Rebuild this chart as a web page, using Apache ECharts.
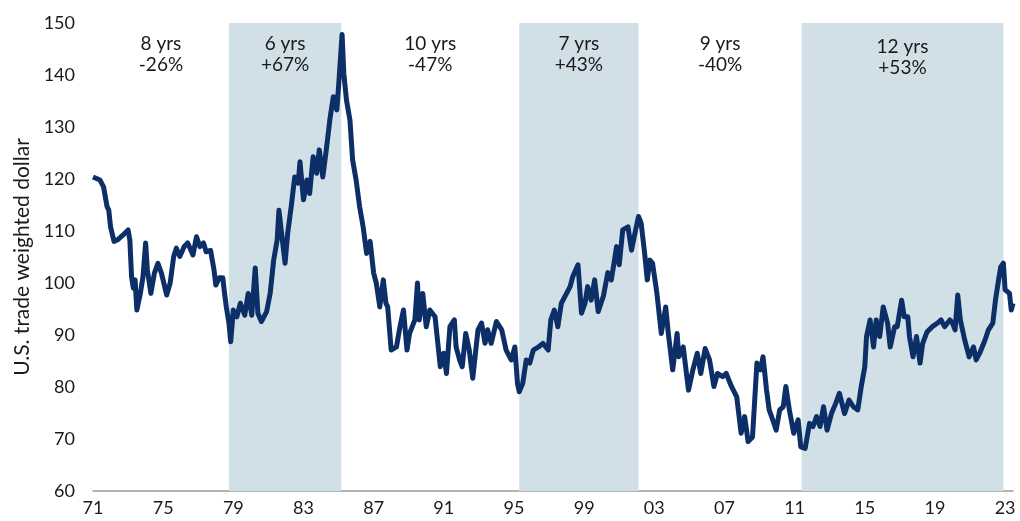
<!DOCTYPE html>
<html>
<head>
<meta charset="utf-8">
<script src="https://cdn.jsdelivr.net/npm/echarts@6/dist/echarts.min.js"></script>
<style>
  html, body { margin: 0; padding: 0; background: #fff; }
  #chart { width: 1020px; height: 521px; }
</style>
</head>
<body>
<div id="chart"></div>
<script>
// decimal years and index values
const years = [
  1971.0, 1971.1, 1971.4, 1971.6, 1971.8, 1971.9, 1972.0, 1972.2, 1972.4, 1972.7,
  1973.0, 1973.1, 1973.2, 1973.3, 1973.4, 1973.5, 1973.7, 1973.85, 1974.0, 1974.1,
  1974.3, 1974.5, 1974.7, 1974.9, 1975.2, 1975.4, 1975.6, 1975.75, 1975.95, 1976.2,
  1976.4, 1976.7, 1976.9, 1977.1, 1977.3, 1977.45, 1977.7, 1977.9, 1978.0, 1978.2,
  1978.4, 1978.5, 1978.6, 1978.75, 1978.85, 1979.0, 1979.2, 1979.4, 1979.65, 1979.85,
  1980.05, 1980.25, 1980.4, 1980.6, 1980.9, 1981.1, 1981.3, 1981.5, 1981.6, 1981.75,
  1981.95, 1982.1, 1982.3, 1982.5, 1982.7, 1982.8, 1983.0, 1983.2, 1983.35, 1983.55,
  1983.75, 1983.9, 1984.1, 1984.3, 1984.5, 1984.7, 1984.9, 1985.0, 1985.2, 1985.3,
  1985.45, 1985.65, 1985.8, 1986.0, 1986.2, 1986.4, 1986.6, 1986.8, 1987.0, 1987.15,
  1987.35, 1987.55, 1987.7, 1987.8, 1988.0, 1988.3, 1988.5, 1988.7, 1988.9, 1989.05,
  1989.35, 1989.5, 1989.6, 1989.8, 1990.0, 1990.2, 1990.5, 1990.8, 1991.0, 1991.15,
  1991.35, 1991.6, 1991.7, 1991.9, 1992.05, 1992.25, 1992.45, 1992.65, 1992.95, 1993.15,
  1993.35, 1993.5, 1993.7, 1994.0, 1994.3, 1994.55, 1994.85, 1995.05, 1995.2, 1995.3,
  1995.5, 1995.7, 1995.9, 1996.1, 1996.4, 1996.65, 1996.95, 1997.1, 1997.3, 1997.5,
  1997.7, 1998.0, 1998.2, 1998.35, 1998.65, 1998.85, 1999.05, 1999.2, 1999.4, 1999.6,
  1999.8, 2000.1, 2000.35, 2000.55, 2000.85, 2001.0, 2001.2, 2001.5, 2001.7, 2001.9,
  2002.1, 2002.25, 2002.45, 2002.6, 2002.75, 2002.9, 2003.15, 2003.4, 2003.65, 2003.8,
  2004.05, 2004.3, 2004.4, 2004.65, 2004.95, 2005.2, 2005.45, 2005.65, 2005.9, 2006.15,
  2006.4, 2006.6, 2006.9, 2007.1, 2007.4, 2007.7, 2007.95, 2008.15, 2008.35, 2008.6,
  2008.85, 2009.05, 2009.2, 2009.4, 2009.55, 2009.75, 2009.95, 2010.15, 2010.35, 2010.5,
  2010.7, 2010.95, 2011.2, 2011.35, 2011.6, 2011.85, 2012.05, 2012.25, 2012.45, 2012.65,
  2012.85, 2013.1, 2013.35, 2013.55, 2013.85, 2014.1, 2014.35, 2014.6, 2014.8, 2015.0,
  2015.1, 2015.3, 2015.5, 2015.65, 2015.85, 2016.05, 2016.3, 2016.45, 2016.7, 2016.85,
  2017.1, 2017.25, 2017.45, 2017.55, 2017.75, 2017.95, 2018.15, 2018.3, 2018.55, 2018.85,
  2019.15, 2019.35, 2019.55, 2019.85, 2020.0, 2020.15, 2020.3, 2020.45, 2020.7, 2020.95,
  2021.2, 2021.35, 2021.55, 2021.85, 2022.05, 2022.3, 2022.45, 2022.6, 2022.75, 2022.9,
  2023.0, 2023.25, 2023.35, 2023.45
]
const dollar = [
  120.4, 120.4, 119.8, 118.5, 114.7, 114.0, 110.8, 108.0, 108.3, 109.2,
  110.2, 108.3, 101.2, 99.0, 100.6, 94.8, 98.0, 101.2, 107.7, 102.5,
  98.0, 101.9, 103.8, 101.9, 97.7, 100.0, 105.1, 106.7, 105.1, 107.0,
  107.7, 105.4, 108.9, 107.0, 107.7, 106.0, 106.3, 102.5, 99.6, 101.0,
  101.0, 98.0, 95.4, 92.3, 88.7, 94.8, 93.5, 96.1, 93.8, 98.0,
  93.8, 102.9, 94.2, 92.6, 94.5, 98.0, 104.4, 108.3, 114.0, 109.6,
  103.8, 109.6, 114.7, 120.4, 119.2, 123.3, 116.0, 119.8, 117.2, 124.3,
  121.1, 125.6, 120.4, 125.6, 131.3, 135.8, 133.3, 137.8, 147.8, 140.3,
  135.2, 131.3, 123.7, 119.8, 114.7, 110.8, 105.7, 108.0, 101.9, 100.0,
  95.4, 100.6, 96.1, 95.4, 87.1, 87.7, 91.6, 94.8, 87.1, 90.3,
  92.9, 100.0, 92.9, 98.0, 91.6, 94.8, 93.5, 83.9, 86.5, 82.6,
  91.6, 92.9, 87.7, 85.2, 83.9, 90.3, 87.1, 81.7, 91.0, 92.3,
  88.4, 91.0, 88.4, 92.6, 91.0, 87.1, 85.2, 87.7, 80.7, 79.1,
  80.7, 85.2, 84.6, 87.1, 87.7, 88.4, 87.1, 92.9, 94.8, 91.6,
  96.1, 98.0, 99.3, 101.2, 103.5, 94.2, 96.1, 99.3, 96.7, 100.6,
  94.5, 97.5, 102.0, 100.6, 107.0, 103.5, 110.2, 110.8, 106.3, 109.6,
  112.8, 111.5, 105.7, 100.6, 104.4, 103.8, 98.0, 90.3, 95.4, 90.3,
  83.3, 90.3, 85.8, 87.7, 79.4, 83.3, 86.5, 82.6, 87.4, 85.2,
  80.1, 82.6, 82.0, 82.6, 80.1, 78.1, 71.1, 74.3, 69.5, 70.4,
  84.6, 83.3, 85.8, 79.4, 75.6, 73.7, 71.7, 75.6, 76.2, 80.1,
  75.6, 71.1, 73.7, 68.5, 68.2, 73.0, 72.4, 74.3, 72.4, 76.2,
  71.7, 74.9, 76.9, 78.8, 74.9, 77.5, 76.2, 75.6, 80.1, 83.9,
  89.7, 92.9, 87.7, 92.9, 89.7, 95.4, 92.3, 87.7, 91.6, 91.6,
  96.7, 93.5, 93.5, 89.7, 85.8, 89.7, 84.6, 88.4, 90.6, 91.6,
  92.3, 92.9, 91.6, 92.9, 92.3, 91.0, 97.7, 92.9, 89.0, 85.8,
  87.7, 85.2, 86.5, 89.0, 91.0, 92.3, 96.7, 100.0, 103.1, 103.8,
  98.7, 98.0, 94.8, 96.1
]

// cycles
const cycleStart = [1971.0, 1978.75, 1985.15, 1995.3, 2002.1, 2011.4]
const cycleEnd = [1978.75, 1985.15, 1995.3, 2002.1, 2011.4, 2022.9]
const cycleLength = ['8 yrs', '6 yrs', '10 yrs', '7 yrs', '9 yrs', '12 yrs']
const cycleChange = ['-26%', '+67%', '-47%', '+43%', '-40%', '+53%']
const cycleShaded = [false, true, false, true, false, true]

const xTicks = [1971, 1975, 1979, 1983, 1987, 1991, 1995, 1999, 2003, 2007, 2011, 2015, 2019, 2023]

const FONT = 'Lato, "Open Sans", sans-serif'
const chart = echarts.init(document.getElementById('chart'))

const areas = cycleStart.map((s, i) => [
  {
    xAxis: s,
    itemStyle: { color: cycleShaded[i] ? '#d1dfe7' : 'rgba(0,0,0,0)' },
    label: { formatter: cycleLength[i] + '\n' + cycleChange[i], distance: i === 5 ? 13 : 10 }
  },
  { xAxis: cycleEnd[i] }
])

chart.setOption({
  animation: false,
  grid: { left: 93, right: 7, top: 23, bottom: 30, containLabel: false, outerBoundsMode: 'none' },
  xAxis: {
    type: 'value',
    min: 1971,
    max: 2023.45,
    axisLine: { show: true, lineStyle: { color: '#9a9a9a', width: 1.5 } },
    axisTick: { show: false },
    splitLine: { show: false },
    axisLabel: {
      customValues: xTicks,
      formatter: v => String(Math.round(v) % 100).padStart(2, '0'),
      color: '#1a1a1a',
      fontSize: 18,
      fontFamily: FONT,
      margin: 8
    }
  },
  yAxis: {
    type: 'value',
    min: 60,
    max: 150,
    interval: 10,
    name: 'U.S. trade weighted dollar',
    nameLocation: 'middle',
    nameGap: 60,
    nameTextStyle: { color: '#1a1a1a', fontSize: 21, fontFamily: FONT },
    axisLine: { show: false },
    axisTick: { show: false },
    splitLine: { show: false },
    axisLabel: { color: '#1a1a1a', fontSize: 18, fontFamily: FONT, margin: 18 }
  },
  series: [
    {
      type: 'line',
      data: years.map((y, i) => [y, dollar[i]]),
      showSymbol: false,
      lineStyle: { color: '#0b2f66', width: 5, join: 'round' },
      markArea: {
        silent: true,
        label: {
          show: true,
          position: 'insideTop',
          color: '#1a1a1a',
          fontSize: 19,
          lineHeight: 21,
          fontFamily: FONT,
          align: 'center'
        },
        data: areas
      }
    }
  ]
})
</script>
</body>
</html>
